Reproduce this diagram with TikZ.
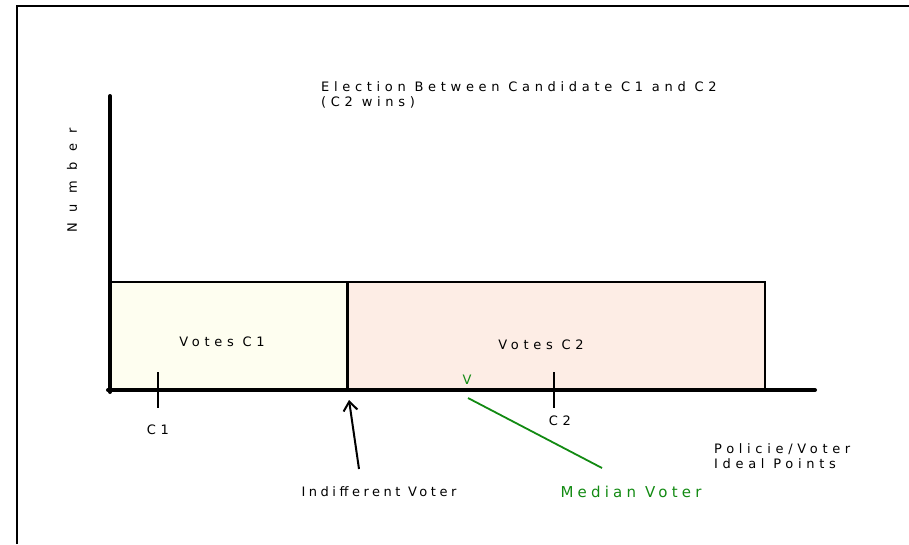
\documentclass[tikz,border=0pt]{standalone}
\usepackage{fontspec}
\setmainfont{DejaVu Sans}
\newfontfamily\spaced[LetterSpace=36]{DejaVu Sans}
\newfontfamily\spacedn[LetterSpace=27]{DejaVu Sans}
\newfontfamily\spacedw[LetterSpace=80]{DejaVu Sans}
\newfontfamily\spacedm[LetterSpace=28]{DejaVu Sans}
\usetikzlibrary{arrows.meta}
\definecolor{cOne}{HTML}{FEFEF0}
\definecolor{cTwo}{HTML}{FDEDE5}
\definecolor{medgreen}{HTML}{128A12}
\begin{document}
\begin{tikzpicture}[x=1pt,y=-1pt,
  lbl/.style={font=\spaced\fontsize{13}{14.5}\selectfont, inner sep=0pt, align=left},
  axis/.style={line width=4pt},
  box/.style={draw, line width=2.5pt},
  tick/.style={line width=2pt}]
\useasboundingbox (0,0) rectangle (909,544);
\draw[line width=1.2pt] (17,544) -- (17,6) -- (909,6);
% boxes
\node[box, fill=cOne, minimum width=238pt, minimum height=108pt, inner sep=0pt] (b1) at (229,336) {};
\node[box, fill=cTwo, minimum width=417pt, minimum height=108pt, inner sep=0pt] (b2) at (556.5,336) {};
\draw[line width=1.2pt] (347,282) -- (347,390);
% axes
\coordinate (yt) at (110,96);
\coordinate (yb) at (110,392);
\coordinate (xl) at (108,390);
\coordinate (xr) at (815,390);
\draw[axis, line cap=round] (yt) -- (yb);
\draw[axis, line cap=round] (xl) -- (xr);
% labels
\node[lbl, anchor=west] (title) at (321,95) {Election Between Candidate C1 and C2\\(C2 wins)};
\node[lbl, font=\spacedw\fontsize{13}{14}\selectfont, rotate=90] (num) at (72,180) {Number};
\node[lbl] (v1) at (222,342) {Votes C1};
\node[lbl] (v2) at (541,345) {Votes C2};
% ticks
\coordinate (t1a) at (158,372); \coordinate (t1b) at (158,408);
\coordinate (t2a) at (554,372); \coordinate (t2b) at (554,408);
\draw[tick] (t1a) -- (t1b);
\draw[tick] (t2a) -- (t2b);
\node[lbl] (c1) at (158,430) {C1};
\node[lbl] (c2) at (560,421) {C2};
% median voter
\node[lbl, text=medgreen] (v) at (467,380) {V};
\coordinate (ga) at (468,398);
\coordinate (gb) at (602,468);
\draw[medgreen, line width=1.8pt] (ga) -- (gb);
\node[font=\spacedm\fontsize{15}{16}\selectfont, text=medgreen, inner sep=0pt] (mv) at (631,492) {Median Voter};
% indifferent voter
\coordinate (aa) at (359,469);
\coordinate (ab) at (349,400);
\draw[line width=2pt, -{Straight Barb[length=9pt, width=14pt, line width=2pt]}] (aa) -- (ab);
\node[lbl, font=\spacedn\fontsize{13}{14}\selectfont] (iv) at (379,492) {Indifferent Voter};
\node[lbl, anchor=west] (pv) at (714,456) {Policie/Voter\\Ideal Points};
\end{tikzpicture}
\end{document}
